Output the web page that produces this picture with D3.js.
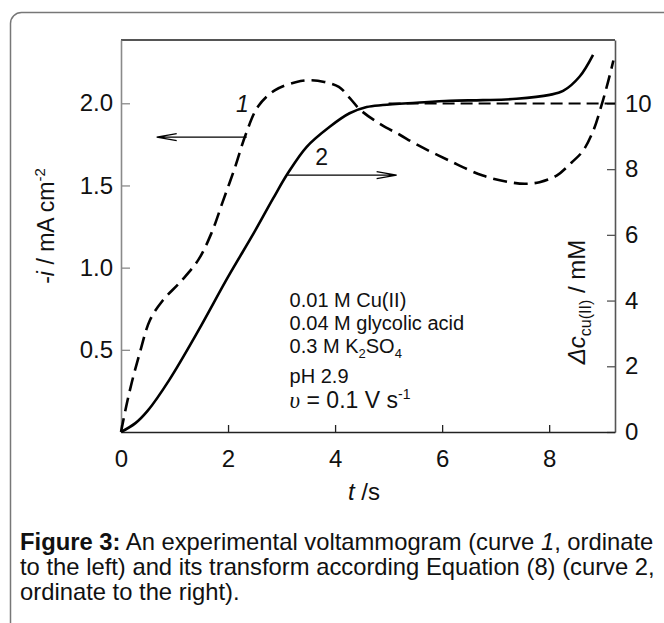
<!DOCTYPE html>
<html>
<head>
<meta charset="utf-8">
<script src="https://cdn.jsdelivr.net/npm/d3@7"></script>
<style>
  body { margin: 0; background: #fff; }
  text { font-family: "Liberation Sans", Arial, sans-serif; fill: #111; }
</style>
</head>
<body>
<script>
// curve 1 (dashed): experimental voltammogram, -i / mA cm-2, left ordinate
const t1 = [0, 0.1, 0.2, 0.35, 0.54, 0.78, 1.13, 1.45, 1.69, 1.9, 2.13, 2.33, 2.56, 2.88,
            3.28, 3.55, 3.8, 4.07, 4.28, 4.47, 4.86, 5.2, 5.52, 6.14, 6.76, 7.26, 7.55,
            7.82, 8.14, 8.42, 8.63, 8.82, 8.98, 9.1, 9.2];
const i1 = [0, 0.16, 0.3, 0.48, 0.68, 0.8, 0.92, 1.05, 1.21, 1.4, 1.61, 1.81, 1.98, 2.08,
            2.13, 2.14, 2.13, 2.1, 2.03, 1.96, 1.87, 1.81, 1.75, 1.65, 1.56, 1.52, 1.51,
            1.52, 1.56, 1.64, 1.71, 1.83, 1.99, 2.13, 2.26];

// curve 2 (solid): transform, Δc / mM, right ordinate
const t2 = [0, 0.27, 0.5, 0.9, 1.45, 2.0, 2.48, 2.84, 3.12, 3.47, 3.9, 4.27, 4.59, 4.89,
            5.52, 6.14, 6.76, 7.39, 8.01, 8.26, 8.57, 8.82];
const c2 = [0, 0.27, 0.65, 1.58, 3.1, 4.72, 6.05, 7.1, 7.88, 8.68, 9.29, 9.7, 9.89, 9.95,
            10.02, 10.08, 10.1, 10.14, 10.26, 10.38, 10.82, 11.48];

// dashed limit of curve 2
const tLimit = [5.0, 9.23];
const cLimit = [10, 10];

const xDomain = [0, 9.23];
const yLeftDomain = [0, 2.385];
const yRightDomain = [0, 11.93];
const xTicks = [0, 2, 4, 6, 8];
const yLeftTicks = [0.5, 1.0, 1.5, 2.0];
const yRightTicks = [0, 2, 4, 6, 8, 10];

const conditions = ["0.01 M Cu(II)", "0.04 M glycolic acid", "0.3 M K2SO4", "pH 2.9", "υ = 0.1 V s-1"];

const chart = {
    width: 664,
    height: 623,
    left: 121, right: 615, top: 40, bottom: 432,
    tickFont: 24
};

const svg = d3.select("body")
    .append("svg")
      .attr("width", chart.width)
      .attr("height", chart.height);

// card outline, runs off the right and bottom edges
svg.append("rect")
    .attr("x", 10.5).attr("y", 12.5)
    .attr("width", 720).attr("height", 700)
    .attr("rx", 11)
    .attr("fill", "#fff")
    .attr("stroke", "#777")
    .attr("stroke-width", 1.5);

const x = d3.scaleLinear().domain(xDomain).range([chart.left, chart.right]);
const yL = d3.scaleLinear().domain(yLeftDomain).range([chart.bottom, chart.top]);
const yR = d3.scaleLinear().domain(yRightDomain).range([chart.bottom, chart.top]);

// top edge of the frame
svg.append("line")
    .attr("x1", x(xDomain[0])).attr("x2", x(xDomain[1]))
    .attr("y1", yL(yLeftDomain[1])).attr("y2", yL(yLeftDomain[1]))
    .attr("stroke", "#555").attr("stroke-width", 2);

function styleAxis(g, color) {
    g.attr("font-size", chart.tickFont).attr("font-family", null);
    g.select(".domain").attr("stroke", color).attr("stroke-width", 1.6);
    g.selectAll(".tick line").attr("stroke", color).attr("stroke-width", 1.3);
    g.selectAll(".tick text").attr("fill", "#111");
}

svg.append("g")
    .attr("transform", `translate(${chart.left},0)`)
    .call(d3.axisLeft(yL).tickValues(yLeftTicks).tickFormat(d3.format(".1f"))
        .tickSize(-9).tickSizeOuter(0).tickPadding(8))
    .call(g => styleAxis(g, "#8a8a8a"));

svg.append("g")
    .attr("transform", `translate(${chart.right},0)`)
    .call(d3.axisRight(yR).tickValues(yRightTicks)
        .tickSize(-8).tickSizeOuter(0).tickPadding(10))
    .call(g => styleAxis(g, "#555"));

svg.append("g")
    .attr("transform", `translate(0,${chart.bottom})`)
    .call(d3.axisBottom(x).tickValues(xTicks)
        .tickSize(-7).tickSizeOuter(0).tickPadding(18))
    .call(g => styleAxis(g, "#222"));

// curves
const line1 = d3.line().x(d => x(d[0])).y(d => yL(d[1])).curve(d3.curveCatmullRom.alpha(0.5));
const line2 = d3.line().x(d => x(d[0])).y(d => yR(d[1])).curve(d3.curveCatmullRom.alpha(0.5));

svg.append("path")
    .attr("d", line2(d3.zip(t2, c2)))
    .attr("fill", "none").attr("stroke", "#000").attr("stroke-width", 2.6);

svg.append("path")
    .attr("d", line2(d3.zip(tLimit, cLimit)))
    .attr("fill", "none").attr("stroke", "#000").attr("stroke-width", 2)
    .attr("stroke-dasharray", "12,6");

svg.append("path")
    .attr("d", line1(d3.zip(t1, i1)))
    .attr("fill", "none").attr("stroke", "#000").attr("stroke-width", 2.6)
    .attr("stroke-dasharray", "14,7");

// arrows pointing to each curve's ordinate
function arrow(x1, y1, x2, y2) {
    const dir = Math.sign(x2 - x1);
    svg.append("path")
        .attr("d", `M${x1},${y1}L${x2},${y2}M${x2 - dir * 20},${y2 - 3.5}L${x2},${y2}L${x2 - dir * 20},${y2 + 3.5}`)
        .attr("fill", "none").attr("stroke", "#000").attr("stroke-width", 1.2);
}
arrow(x(2.35), yL(1.794), x(0.667), yL(1.794));
arrow(x(3.116), yR(7.82), x(5.15), yR(7.82));

svg.append("text")
    .attr("x", x(2.27)).attr("y", yL(1.946))
    .attr("text-anchor", "middle").attr("font-size", 23).attr("font-style", "italic")
    .text("1");
svg.append("text")
    .attr("x", x(3.75)).attr("y", yR(8.13))
    .attr("text-anchor", "middle").attr("font-size", 23)
    .text("2");

// experimental conditions
const note = svg.append("g")
    .attr("transform", `translate(${x(3.15)},${yL(0.76)})`)
    .attr("font-size", 20);
note.append("text").attr("y", 0).text(conditions[0]);
note.append("text").attr("y", 23).text(conditions[1]);
const k = note.append("text").attr("y", 46);
k.append("tspan").text("0.3 M K");
k.append("tspan").attr("font-size", 13).attr("dy", 5).text("2");
k.append("tspan").attr("dy", -5).text("SO");
k.append("tspan").attr("font-size", 13).attr("dy", 5).text("4");
note.append("text").attr("y", 76).text(conditions[3]);
const v = note.append("text").attr("y", 101).attr("font-size", 23);
v.append("tspan").attr("font-family", "Liberation Serif").attr("font-style", "italic").text("υ");
v.append("tspan").text(" = 0.1 V s");
v.append("tspan").attr("font-size", 14).attr("dy", -9).text("-1");

// axis titles
const xt = svg.append("text")
    .attr("transform", `translate(${(chart.left + chart.right) / 2 - 4},500)`)
    .attr("text-anchor", "middle").attr("font-size", 24);
xt.append("tspan").attr("font-style", "italic").text("t");
xt.append("tspan").text(" /s");

const ylt = svg.append("text")
    .attr("transform", `translate(54,226) rotate(-90)`)
    .attr("text-anchor", "middle").attr("font-size", 23);
ylt.append("tspan").text("-");
ylt.append("tspan").attr("font-style", "italic").text("i");
ylt.append("tspan").text(" / mA cm");
ylt.append("tspan").attr("font-size", 15).attr("dy", -9).text("-2");

const yrt = svg.append("text")
    .attr("transform", `translate(585,302) rotate(-90)`)
    .attr("text-anchor", "middle").attr("font-size", 24);
yrt.append("tspan").attr("font-style", "italic").text("Δc");
yrt.append("tspan").attr("font-size", 16).attr("dy", 6).text("cu(II)");
yrt.append("tspan").attr("dy", -6).text(" / mM");

// caption
const cap = svg.append("g")
    .attr("transform", `translate(20,0) scale(1.035,1)`)
    .attr("font-size", 23);
const c1 = cap.append("text").attr("y", 550);
c1.append("tspan").attr("font-weight", "bold").text("Figure 3:");
c1.append("tspan").text(" An experimental voltammogram (curve ");
c1.append("tspan").attr("font-style", "italic").text("1");
c1.append("tspan").text(", ordinate");
cap.append("text").attr("y", 575).text("to the left) and its transform according Equation (8) (curve 2,");
cap.append("text").attr("y", 600).text("ordinate to the right).");
</script>
</body>
</html>
